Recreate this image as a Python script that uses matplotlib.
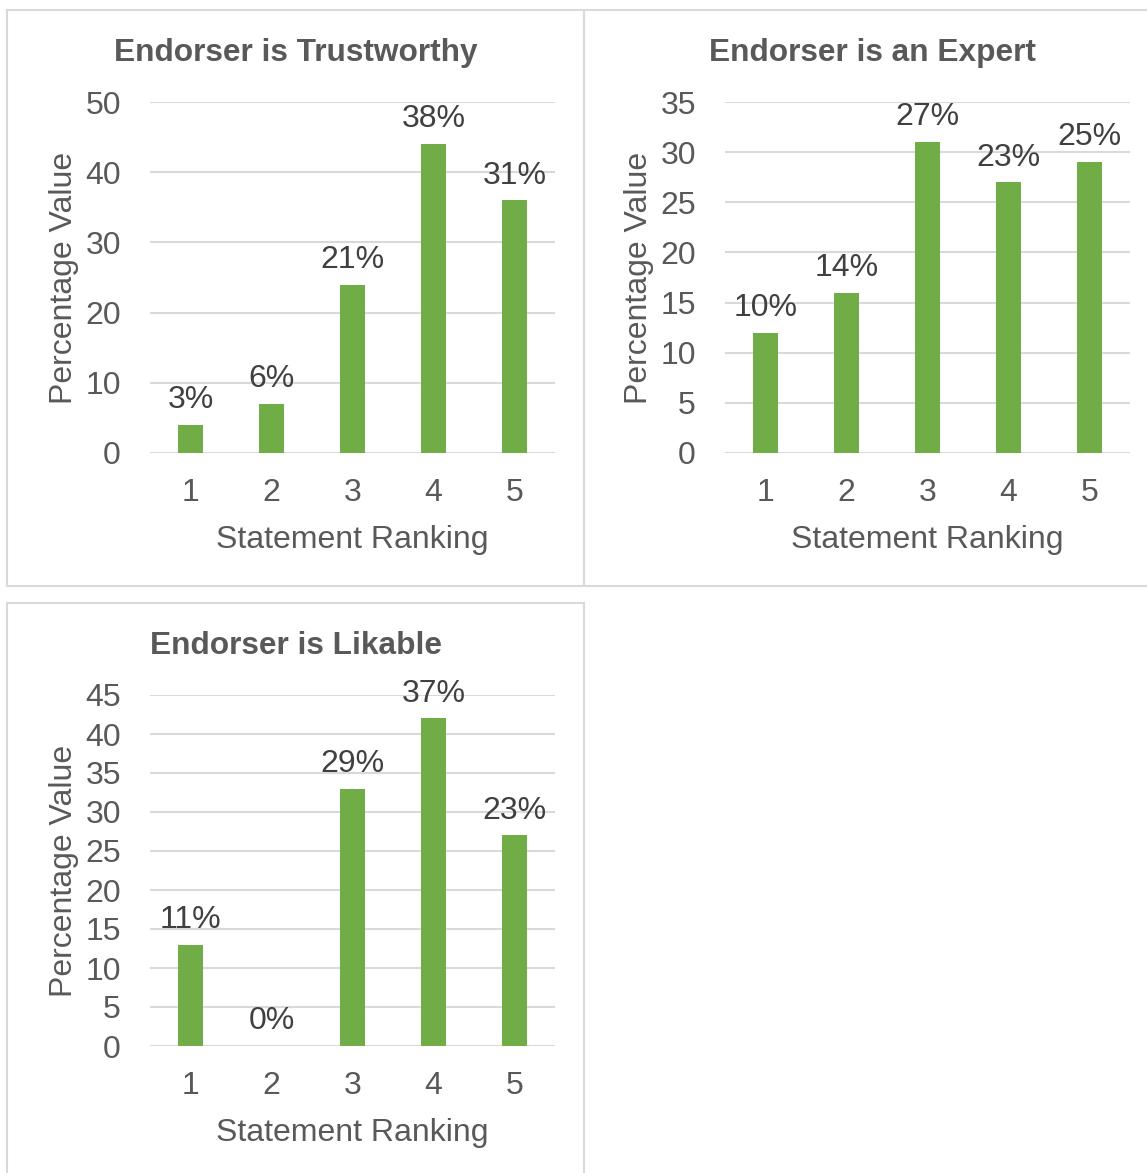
import matplotlib
matplotlib.use("Agg")
import matplotlib.pyplot as plt
from matplotlib.patches import Rectangle

plt.rcParams['font.family'] = ['Liberation Sans', 'DejaVu Sans']

# data
rankings = ["1", "2", "3", "4", "5"]

trust_values = [4, 7, 24, 44, 36]
trust_labels = ["3%", "6%", "21%", "38%", "31%"]

expert_values = [12, 16, 31, 27, 29]
expert_labels = ["10%", "14%", "27%", "23%", "25%"]

likable_values = [13, 0, 33, 42, 27]
likable_labels = ["11%", "0%", "29%", "37%", "23%"]

titles = ["Endorser is Trustworthy", "Endorser is an Expert", "Endorser is Likable"]
y_max = [50, 35, 45]
y_step = [10, 5, 5]

GREEN = "#70AD47"
GRID = "#D9D9D9"
TEXT = "#595959"
LABEL = "#404040"
FS = 23

W, H = 1147, 1173
fig = plt.figure(figsize=(W / 100, H / 100), dpi=100)


def px_box(x0, y0, x1, y1):
    # pixel box (top-left origin) -> figure fraction rect
    return [x0 / W, 1 - y1 / H, (x1 - x0) / W, (y1 - y0) / H]


# panel frames: (left, top) in pixels
panels = [(7, 10), (584, 10), (7, 603)]
panel_w, panel_h = 577, 576
axes_off = [(143, 92), (141, 92), (143, 92)]
axes_w, axes_h = 405, 351

series = [(trust_values, trust_labels), (expert_values, expert_labels),
          (likable_values, likable_labels)]

for i, (px, py) in enumerate(panels):
    fig.patches.append(Rectangle((px / W, 1 - (py + panel_h) / H), panel_w / W, panel_h / H,
                                 transform=fig.transFigure, fill=False,
                                 edgecolor=GRID, linewidth=1.5, zorder=0))
    ox, oy = axes_off[i]
    ax = fig.add_axes(px_box(px + ox, py + oy, px + ox + axes_w, py + oy + axes_h))
    vals, labs = series[i]
    xs = list(range(1, len(vals) + 1))
    ax.bar(xs, vals, width=0.32, color=GREEN, zorder=3)
    for x, v, lab in zip(xs, vals, labs):
        ax.annotate(lab, (x, v), xytext=(0, 7), textcoords="offset points",
                    ha="center", va="bottom", fontsize=FS, color=LABEL)
    ax.set_xlim(0.5, len(vals) + 0.5)
    ax.set_ylim(0, y_max[i])
    ax.set_yticks(range(0, y_max[i] + 1, y_step[i]))
    ax.set_xticks(xs)
    ax.set_xticklabels(rankings)
    ax.grid(axis="y", color=GRID, linewidth=1.5, zorder=0)
    ax.set_axisbelow(True)
    for s in ax.spines.values():
        s.set_visible(False)
    ax.tick_params(axis="y", length=0, pad=21, labelsize=FS, labelcolor=TEXT)
    ax.tick_params(axis="x", length=0, pad=18, labelsize=FS, labelcolor=TEXT)
    ax.set_xlabel("Statement Ranking", fontsize=FS, color=TEXT)
    ax.set_ylabel("Percentage Value", fontsize=FS, color=TEXT)
    ax.xaxis.set_label_coords(0.5, -0.205)
    ax.yaxis.set_label_coords(-0.175, 0.5)
    fig.text((px + panel_w / 2) / W, 1 - (py + 43) / H, titles[i], ha="center", va="center",
             fontsize=22.8, fontweight="bold", color=TEXT)

fig.savefig("out.png", dpi=100, facecolor="white")
